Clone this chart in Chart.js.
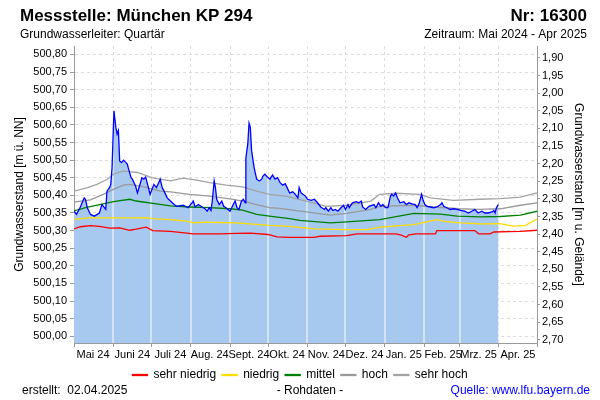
<!DOCTYPE html>
<html>
<head>
<meta charset="utf-8">
<script src="https://cdn.jsdelivr.net/npm/chart.js@4/dist/chart.umd.min.js"></script>
<style>
  html,body{margin:0;padding:0;background:#fff;}
  canvas{display:block;}
</style>
</head>
<body>
<canvas id="ganglinie" width="600" height="400"></canvas>
<script>
// Tage ab 01.05.2024
const monatsGrenzen = [0,31,61,92,123,153,184,214,245,276,304,335,365];
const monatsLabels = ['Mai 24','Juni 24','Juli 24','Aug. 24','Sept. 24','Okt. 24','Nov. 24','Dez. 24','Jan. 25','Feb. 25','Mrz. 25','Apr. 25'];
const gelaendeHoehe = 502.69;

// Messwerte (Rohdaten)
const messTage = [0,2,5,8,9,10.5,13,16,20,22,24,25,26,28,29,30,31.5,33,34,35,36,37.5,39,41,42,43.5,45,46,48.5,50,52,53.5,55,56.5,58,60,62,63,65,68,69.5,71,73.5,76,79,81,86,90,93,94,95.5,98,101,103,105,106.5,108,109,110.5,111.5,112.5,114.5,116.5,118,120.5,123,125.5,127,128.5,130,132,133.5,135,135.5,137,138,139,140,142,144,146,148,149,150.5,152.5,154.5,156.5,158.5,160.5,162.5,164.5,166.5,168,170,172.5,174.5,176.5,177.5,179,180.5,182.5,184,187,189.5,192,194.5,197.5,198.5,200.5,202.5,204,206,208,210.5,212.5,214,216,217,219.5,222.5,224.5,226.5,227.5,230,232.5,236.5,238,240,242,243.5,245.5,247.5,249.5,250.5,252,253.5,255,257,260,262,264,266.5,269,270.5,272,274,275,276.5,278.5,281,283.5,286,289,290,291.5,294,296.5,299.5,302,305.5,308,311,313.5,316,318.5,321.5,324,326.5,329.5,331,332,333,334.5];
const messWerte = [500.355,500.346,500.367,500.393,500.389,500.365,500.346,500.341,500.350,500.374,500.365,500.360,500.412,500.422,500.431,500.479,500.640,500.593,500.574,500.584,500.498,500.493,500.500,500.493,500.489,500.469,500.450,500.446,500.427,500.407,500.431,500.450,500.446,500.452,500.431,500.403,500.422,500.431,500.422,500.446,500.422,500.412,500.393,500.384,500.374,500.369,500.372,500.365,500.379,500.384,500.367,500.374,500.367,500.363,500.355,500.365,500.357,500.384,500.441,500.422,500.389,500.374,500.384,500.369,500.363,500.355,500.374,500.384,500.365,500.360,500.384,500.389,500.379,500.507,500.546,500.605,500.593,500.527,500.479,500.446,500.441,500.446,500.455,500.460,500.452,500.446,500.458,500.446,500.450,500.436,500.429,500.433,500.422,500.407,500.410,500.403,500.393,500.422,500.407,500.403,500.398,500.389,500.386,500.389,500.379,500.367,500.360,500.365,500.355,500.365,500.357,500.360,500.355,500.365,500.372,500.360,500.374,500.365,500.379,500.382,500.379,500.384,500.367,500.360,500.369,500.374,500.365,500.379,500.369,500.374,500.365,500.365,500.398,500.403,500.398,500.407,500.393,500.379,500.382,500.374,500.379,500.376,500.374,500.365,500.376,500.403,500.389,500.374,500.369,500.367,500.365,500.367,500.374,500.379,500.369,500.365,500.360,500.362,500.360,500.357,500.355,500.350,500.355,500.360,500.350,500.355,500.350,500.350,500.353,500.357,500.350,500.365,500.374];

// Vergleichswerte
const sehrNiedrigTage = [0,5,13,20,28,36,44,49,57,62,76,89,94,115,128,139,153,160,170,189,194,215,223,254,258,262,264,270,285,286,316,319,328,331,343,352,365];
const sehrNiedrigWerte = [500.305,500.311,500.314,500.312,500.307,500.308,500.301,500.304,500.310,500.300,500.298,500.293,500.291,500.291,500.292,500.293,500.289,500.282,500.281,500.281,500.284,500.286,500.291,500.291,500.287,500.281,500.288,500.291,500.291,500.300,500.300,500.291,500.291,500.296,500.297,500.298,500.301];
const niedrigTage = [0,11,31,49,57,62,76,89,94,102,115,128,154,170,189,215,231,241,268,286,291,304,320,336,346,356,362,365];
const niedrigWerte = [500.332,500.336,500.336,500.336,500.337,500.334,500.331,500.327,500.322,500.324,500.323,500.322,500.315,500.312,500.305,500.303,500.303,500.310,500.317,500.331,500.327,500.322,500.319,500.320,500.313,500.315,500.327,500.333];
const mittelTage = [0,10,23,31,44,49,65,76,91,107,123,133,144,154,170,178,202,215,241,268,289,302,320,336,352,365];
const mittelWerte = [500.356,500.366,500.376,500.382,500.389,500.384,500.376,500.370,500.367,500.365,500.362,500.358,500.346,500.341,500.334,500.329,500.322,500.325,500.331,500.349,500.347,500.341,500.339,500.340,500.344,500.355];
const hochTage = [0,13,23,31,39,44,55,68,76,91,107,123,133,144,154,162,183,202,215,234,241,268,283,304,320,336,352,365];
const hochWerte = [500.381,500.387,500.403,500.417,500.429,500.431,500.424,500.412,500.410,500.403,500.398,500.390,500.384,500.374,500.365,500.363,500.353,500.344,500.349,500.360,500.369,500.372,500.367,500.362,500.360,500.362,500.372,500.379];
const sehrHochTage = [0,10,18,26,32,36,39,50,62,76,86,97,107,120,133,144,154,167,183,199,215,234,241,254,273,281,299,320,336,352,365];
const sehrHochWerte = [500.412,500.421,500.431,500.445,500.462,500.466,500.469,500.465,500.450,500.441,500.449,500.443,500.436,500.429,500.424,500.412,500.403,500.398,500.384,500.369,500.372,500.384,500.403,500.406,500.403,500.393,500.386,500.389,500.391,500.395,500.407];

const FONT = "'Liberation Sans', Arial, sans-serif";

function punkte(tage, werte){
  return tage.map((t,i)=>({x:t, y:werte[i]}));
}
function komma(v){
  return v.toFixed(2).replace('.', ',');
}

// helle Monatslinien innerhalb der Fläche
const flaechenLinien = {
  id:'flaechenLinien',
  beforeDatasetsDraw(chart){
    const pts = chart.getDatasetMeta(0).data;
    if(!pts.length) return;
    const {ctx, chartArea} = chart;
    const xs = chart.scales.x;
    ctx.save();
    ctx.beginPath();
    ctx.moveTo(pts[0].x, chartArea.bottom);
    pts.forEach(p=>ctx.lineTo(p.x, p.y));
    ctx.lineTo(pts[pts.length-1].x, chartArea.bottom);
    ctx.closePath();
    ctx.clip();
    ctx.strokeStyle = '#e4ecf7';
    ctx.lineWidth = 1.5;
    monatsGrenzen.slice(1).forEach(t=>{
      const x = Math.round(xs.getPixelForValue(t));
      ctx.beginPath();
      ctx.moveTo(x, chartArea.top);
      ctx.lineTo(x, chartArea.bottom);
      ctx.stroke();
    });
    ctx.restore();
  }
};

// Kopf- und Fußzeilen
const texte = {
  id:'texte',
  afterDraw(chart){
    const ctx = chart.ctx;
    ctx.save();
    ctx.fillStyle = '#000';
    ctx.textBaseline = 'alphabetic';
    ctx.font = 'bold 17px ' + FONT;
    ctx.textAlign = 'left';
    ctx.fillText('Messstelle: München KP 294', 20, 21);
    ctx.textAlign = 'right';
    ctx.fillText('Nr: 16300', 587, 21);
    ctx.font = '12px ' + FONT;
    ctx.textAlign = 'left';
    ctx.fillText('Grundwasserleiter: Quartär', 20, 38);
    ctx.textAlign = 'right';
    ctx.fillText('Zeitraum: Mai 2024 - Apr 2025', 587, 38);
    ctx.textAlign = 'left';
    ctx.fillText('erstellt:  02.04.2025', 22, 394);
    ctx.textAlign = 'center';
    ctx.fillText('- Rohdaten -', 310, 394);
    ctx.textAlign = 'right';
    ctx.fillStyle = '#0000ff';
    ctx.fillText('Quelle: www.lfu.bayern.de', 590, 394);
    ctx.restore();
  }
};

function linie(label, tage, werte, farbe){
  return {
    label: label,
    data: punkte(tage, werte),
    borderColor: farbe,
    backgroundColor: farbe,
    borderWidth: 1.3,
    pointRadius: 0,
    fill: false,
    tension: 0
  };
}

new Chart(document.getElementById('ganglinie'), {
  type:'line',
  data:{
    datasets:[
      {
        label:'Messwerte',
        data: punkte(messTage, messWerte),
        borderColor:'#0000ff',
        backgroundColor:'#a7c8ef',
        borderWidth:1.3,
        pointRadius:0,
        fill:'start',
        tension:0
      },
      linie('sehr niedrig', sehrNiedrigTage, sehrNiedrigWerte, '#ff0000'),
      linie('niedrig', niedrigTage, niedrigWerte, '#ffdd00'),
      linie('mittel', mittelTage, mittelWerte, '#008000'),
      linie('hoch', hochTage, hochWerte, '#999999'),
      linie('sehr hoch', sehrHochTage, sehrHochWerte, '#a3a3a3')
    ]
  },
  options:{
    responsive:false,
    animation:false,
    devicePixelRatio:1,
    layout:{padding:{top:46, left:0, right:0, bottom:9}},
    plugins:{
      filler:{drawTime:'beforeDatasetsDraw'},
      tooltip:{enabled:false},
      legend:{
        position:'bottom',
        labels:{
          filter: item => item.datasetIndex > 0,
          boxWidth:15,
          boxHeight:1,
          padding:6,
          color:'#000',
          font:{family:FONT, size:12}
        }
      }
    },
    scales:{
      x:{
        type:'linear',
        min:0,
        max:365,
        afterBuildTicks: s => { s.ticks = monatsGrenzen.map(v=>({value:v})); },
        afterFit: s => { s.height = 20; },
        ticks:{
          autoSkip:false,
          maxRotation:0,
          minRotation:0,
          labelOffset:19,
          padding:1,
          color:'#000',
          font:{family:FONT, size:11},
          callback:(v,i)=> monatsLabels[i] || ''
        },
        grid:{color:'#dddddd', tickColor:'#999999', tickLength:4, tickBorderDash:[]},
        border:{color:'#999999', dash:[3,3]}
      },
      y:{
        position:'left',
        min:499.981,
        max:500.824,
        afterBuildTicks: s => { const t=[]; for(let i=0;i<=16;i++) t.push({value:500+i*0.05}); s.ticks=t; },
        afterFit: s => { s.width = 74; },
        ticks:{color:'#000', padding:3, font:{family:FONT, size:11}, callback:v=>komma(v)},
        grid:{color:'#dddddd', tickColor:'#999999', tickLength:4, tickBorderDash:[]},
        border:{color:'#999999', dash:[3,3]},
        title:{display:true, text:'Grundwasserstand [m ü. NN]', color:'#000', font:{family:FONT, size:12}, padding:{top:12, bottom:0}}
      },
      y2:{
        position:'right',
        reverse:true,
        min: gelaendeHoehe - 500.824,
        max: gelaendeHoehe - 499.981,
        afterBuildTicks: s => { const t=[]; for(let i=0;i<=16;i++) t.push({value:1.9+i*0.05}); s.ticks=t; },
        afterFit: s => { s.width = 63; },
        ticks:{color:'#000', padding:2, font:{family:FONT, size:11}, callback:v=>komma(v)},
        grid:{drawOnChartArea:false, tickColor:'#999999', tickLength:3},
        border:{color:'#999999'},
        title:{display:true, text:'Grundwasserstand [m u. Gelände]', color:'#000', font:{family:FONT, size:12}, padding:{top:14, bottom:0}}
      }
    }
  },
  plugins:[flaechenLinien, texte]
});
</script>
</body>
</html>
